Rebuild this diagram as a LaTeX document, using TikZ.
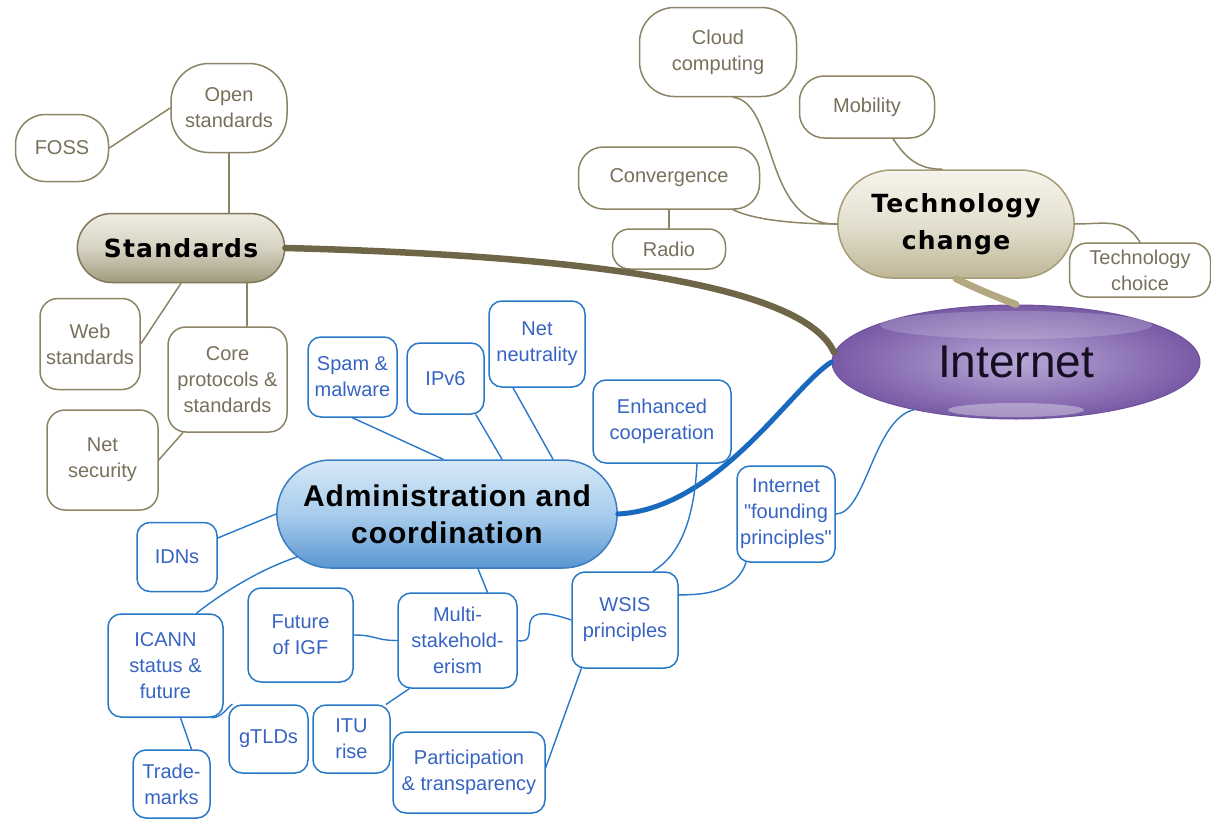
\documentclass[tikz,border=0pt]{standalone}
\usepackage{fontspec}
\setmainfont{Liberation Sans}
\newfontfamily\headfont[LetterSpace=5]{DejaVu Sans}
\newfontfamily\adminfont[LetterSpace=3]{Liberation Sans}
\usetikzlibrary{shapes.misc,shapes.geometric}
\definecolor{tanline}{RGB}{140,132,100}
\definecolor{tantext}{RGB}{120,112,90}
\definecolor{olivetrunk}{RGB}{110,102,70}
\definecolor{tantrunk}{RGB}{178,168,130}
\definecolor{blueline}{RGB}{40,120,200}
\definecolor{bluetext}{RGB}{55,100,195}
\definecolor{bluetrunk}{RGB}{25,105,190}
\definecolor{inetline}{RGB}{110,80,155}

\begin{document}
\begin{tikzpicture}[line cap=round,line join=round,x=1pt,y=-1pt,
  dims/.style 2 args={minimum width=#1,minimum height=#2},
  leaf/.style={fill=white,align=center,line width=1.5pt,inner sep=1pt,
    font=\fontsize{20}{26}\selectfont},
  tanleaf/.style={leaf,draw=tanline,text=tantext,rounded corners=18pt},
  blueleaf/.style={leaf,draw=blueline,text=bluetext,rounded corners=13pt},
  tanlink/.style={draw=tanline,line width=1.5pt},
  bluelink/.style={draw=blueline,line width=1.4pt}]
\useasboundingbox (0,0) rectangle (1211,819);
%
% standards
\node[tanleaf,dims={116pt}{89pt},rounded corners=38pt] (open) at (229,108) {Open\\standards};
\node[tanleaf,dims={93pt}{67pt},rounded corners=30pt] (foss) at (62,148) {FOSS};
\node[rounded rectangle,draw={rgb,255:red,128;green,120;blue,90},line width=1.5pt,
  top color={rgb,255:red,238;green,236;blue,226},bottom color={rgb,255:red,160;green,154;blue,126},
  middle color={rgb,255:red,215;green,211;blue,195},dims={214pt}{69pt},
  font=\headfont\bfseries\fontsize{25}{30}\selectfont] (std) at (181,248) {Standards};
\node[tanleaf,dims={100pt}{91pt}] (web) at (90,344) {Web\\standards};
\node[tanleaf,dims={119pt}{105pt}] (core) at (227.5,379.5) {Core\\protocols \&\\standards};
\node[tanleaf,dims={111pt}{100pt}] (net) at (102.5,460) {Net\\security};
%
% technology
\node[tanleaf,dims={157pt}{89pt},rounded corners=35pt] (cloud) at (718,52) {Cloud\\computing};
\node[tanleaf,dims={135pt}{62pt},rounded corners=25pt] (mobility) at (867,107) {Mobility};
\node[tanleaf,dims={181pt}{62pt},rounded corners=25pt] (conv) at (669,178) {Convergence};
\node[tanleaf,dims={113pt}{40pt},rounded corners=17pt] (radio) at (669,249) {Radio};
\node[rounded rectangle,draw={rgb,255:red,165;green,156;blue,120},line width=1.5pt,
  top color={rgb,255:red,245;green,243;blue,234},bottom color={rgb,255:red,190;green,182;blue,150},
  middle color={rgb,255:red,228;green,224;blue,208},dims={243pt}{108pt},align=center,
  font=\headfont\bfseries\fontsize{25}{37}\selectfont] (tc) at (956,224) {Technology\\change};
\node[tanleaf,dims={141pt}{54pt}] (choice) at (1140,270) {Technology\\choice};
%
% internet
\node[ellipse,draw=inetline,line width=1pt,inner color={rgb,255:red,185;green,168;blue,215},
  outer color={rgb,255:red,120;green,90;blue,165},dims={368pt}{114pt},
  text={rgb,255:red,20;green,15;blue,35},font=\fontsize{46}{50}\selectfont] (inet) at (1016,362) {Internet};
\fill[white,opacity=0.18] ([yshift=37pt]inet.center) ellipse (136pt and 14pt);
\fill[white,opacity=0.35] ([yshift=-48pt]inet.center) ellipse (68pt and 7pt);
%
% administration
\node[rounded rectangle,draw={rgb,255:red,60;green,125;blue,195},line width=1.5pt,
  top color={rgb,255:red,214;green,232;blue,247},bottom color={rgb,255:red,90;green,150;blue,210},
  middle color={rgb,255:red,168;green,205;blue,236},dims={347pt}{108pt},align=center,
  font=\adminfont\bfseries\fontsize{30}{37}\selectfont] (admin) at (447,514) {Administration and\\coordination};
\node[blueleaf,dims={89pt}{80pt}] (spam) at (352.5,377) {Spam \&\\malware};
\node[blueleaf,dims={77pt}{71pt}] (ipv6) at (445.5,378.5) {IPv6};
\node[blueleaf,dims={96pt}{86pt}] (neut) at (537,344) {Net\\neutrality};
\node[blueleaf,dims={138pt}{83pt}] (enh) at (662,421.5) {Enhanced\\cooperation};
\node[blueleaf,dims={98pt}{96pt}] (fp) at (786,514) {Internet\\\textquotedbl founding\\principles\textquotedbl};
\node[blueleaf,dims={80pt}{69pt}] (idns) at (177,557) {IDNs};
\node[blueleaf,dims={115pt}{103pt}] (icann) at (165.5,665.5) {ICANN\\status \&\\future};
\node[blueleaf,dims={105pt}{94pt}] (igf) at (300.5,635) {Future\\of IGF};
\node[blueleaf,dims={119pt}{95pt}] (multi) at (457.5,640.5) {Multi-\\stakehold-\\erism};
\node[blueleaf,dims={106pt}{96pt}] (wsis) at (625,620) {WSIS\\principles};
\node[blueleaf,dims={79pt}{68pt}] (gtld) at (268.5,739) {gTLDs};
\node[blueleaf,dims={77pt}{68pt}] (itu) at (351.5,739) {ITU\\rise};
\node[blueleaf,dims={152pt}{81pt}] (part) at (469,772.5) {Participation\\\& transparency};
\node[blueleaf,dims={77pt}{68pt}] (trade) at (171.5,784) {Trade-\\marks};
%
% links
\draw[tanlink] (foss.east) -- (open.west);
\draw[tanlink] (open.south) -- (open.south |- std.north);
\draw[tanlink] (std.south) -- (web.east);
\draw[tanlink] (core.70) -- (core.70 |- std.south);
\draw[tanlink] (core.230) -- (net.east);
\draw[tanlink] ([xshift=15pt]cloud.south) .. controls +(45,5) and +(-75,2) .. (tc.west);
\draw[tanlink] ([xshift=26pt]mobility.south) .. controls +(12,18) and +(-25,0) .. ([xshift=-14pt]tc.north);
\draw[tanlink] ([xshift=64pt]conv.south) .. controls +(25,12) and +(-30,0) .. (tc.west);
\draw[tanlink] (conv.south) -- (radio.north);
\draw[tanlink] (tc.east) .. controls +(30,0) and +(-15,-25) .. (choice.north);
%
\draw[olivetrunk,line width=6.5pt] (std.east) .. controls +(272,7) and +(-32,-72) .. (inet.177);
\draw[tantrunk,line width=7pt] (tc.south) .. controls +(25,12) and +(-25,-10) .. (inet.north);
\draw[bluetrunk,line width=5pt] (admin.east) .. controls +(100,-5) and +(-40,25) .. (inet.west);
%
\draw[bluelink] (spam.south) -- ([xshift=-4pt]admin.north);
\draw[bluelink] (ipv6.310) -- ([xshift=55pt]admin.north);
\draw[bluelink] ([xshift=-24pt]neut.south) -- ([xshift=106pt]admin.north);
\draw[bluelink] ([xshift=35pt]enh.south) .. controls +(-3,60) and +(25,-15) .. ([xshift=28pt]wsis.north);
\draw[bluelink] (inet.205) .. controls +(-40,10) and +(30,0) .. (fp.east);
\draw[bluelink] ([xshift=-40pt]fp.south) .. controls +(-10,28) and +(30,0) .. (wsis.25);
\draw[bluelink] (admin.west) -- (idns.25);
\draw[bluelink] (admin.196) .. controls +(-45,15) and +(15,-12) .. ([xshift=31pt]icann.north);
\draw[bluelink] ([xshift=31pt]admin.south) -- ([xshift=30pt]multi.north);
\draw[bluelink] (igf.east) .. controls +(22,0) and +(-22,0) .. (multi.west);
\draw[bluelink] (multi.east) .. controls +(28,5) and +(-67,-23) .. (wsis.west);
\draw[bluelink] (multi.225) -- (itu.45);
\draw[bluelink] ([xshift=-12pt]icann.south east) .. controls +(10,0) and +(-6,4) .. ([xshift=4pt]gtld.north west);
\draw[bluelink] ([xshift=15pt]icann.south) -- ([xshift=20pt]trade.north);
\draw[bluelink] ([xshift=10pt]wsis.south west) -- ([yshift=5pt]part.east);
\end{tikzpicture}
\end{document}
